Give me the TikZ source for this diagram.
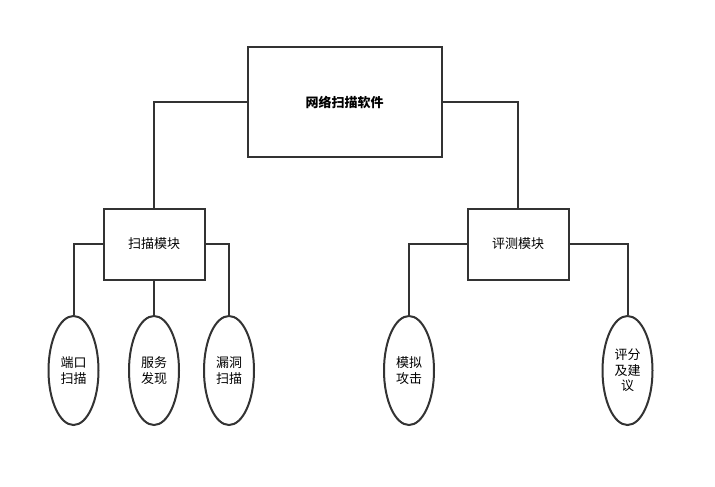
\documentclass[tikz,border=0pt]{standalone}
\usepackage{fontspec}
\setmainfont{Noto Sans CJK SC}
\usetikzlibrary{shapes,positioning}

\begin{document}
\begin{tikzpicture}[x=1pt, y=-1pt, every node/.style={font=\fontsize{13}{15.5}\selectfont}]
    \tikzstyle{module} = [rectangle, draw=black!80, line width=2pt, inner sep=0pt]
    \tikzstyle{func} = [ellipse, draw=black!80, line width=2pt, inner sep=0pt, align=center, minimum width=50pt, minimum height=109pt]
    \tikzstyle{link} = [draw=black!80, line width=2pt]
    \useasboundingbox (0,0) rectangle (715,487);

    % 模块
    \node[module, minimum width=194pt, minimum height=109pt, font=\fontsize{13}{15.5}\selectfont\bfseries] (soft) at (344.5,102) {网络扫描软件};
    \node[module, minimum width=101pt, minimum height=71pt] (scan) at (154,244) {扫描模块};
    \node[module, minimum width=101pt, minimum height=71pt] (eval) at (518,244) {评测模块};

    % 功能
    \node[func] (port) at (73.5,370.5) {端口\\扫描};
    \node[func] (serv) at (154,370.5) {服务\\发现};
    \node[func] (vuln) at (229,370.5) {漏洞\\扫描};
    \node[func] (attack) at (409,370.5) {模拟\\攻击};
    \node[func] (advice) at (627.5,370.5) {评分\\及建\\议};

    % 连线
    \draw[link] (soft.west) -| (scan.north);
    \draw[link] (soft.east) -| (eval.north);
    \draw[link] (scan.west) -| (port.north);
    \draw[link] (scan.south) -- (serv.north);
    \draw[link] (scan.east) -| (vuln.north);
    \draw[link] (eval.west) -| (attack.north);
    \draw[link] (eval.east) -| (advice.north);
\end{tikzpicture}
\end{document}
